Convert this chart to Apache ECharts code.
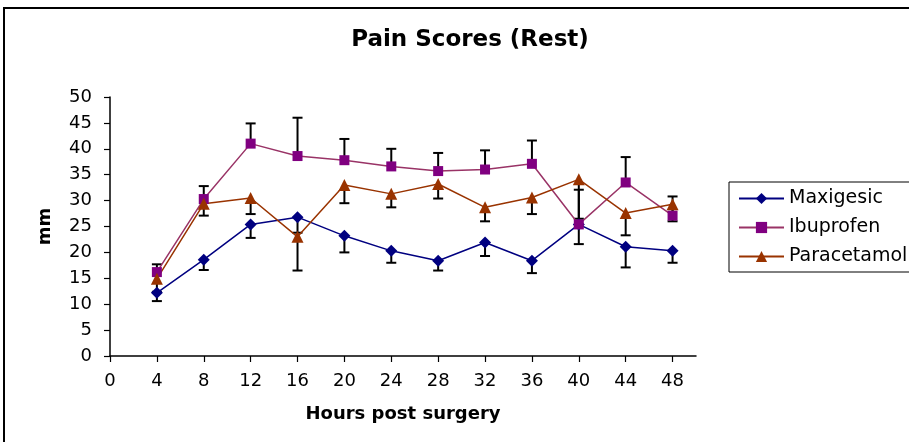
<!DOCTYPE html>
<html>
<head>
<meta charset="utf-8">
<script src="https://cdn.jsdelivr.net/npm/echarts@6/dist/echarts.min.js"></script>
<style>
html,body{margin:0;padding:0;background:#fff;}
#chart{width:909px;height:442px;}
</style>
</head>
<body>
<div id="chart"></div>
<script>
// ---- data ----
const hours = [4, 8, 12, 16, 20, 24, 28, 32, 36, 40, 44, 48];
const xTickLabels = [0, 4, 8, 12, 16, 20, 24, 28, 32, 36, 40, 44, 48];
const yTickLabels = [0, 5, 10, 15, 20, 25, 30, 35, 40, 45, 50];

const maxigesic = [12.2, 18.6, 25.4, 26.8, 23.2, 20.3, 18.4, 21.9, 18.4, 25.4, 21.1, 20.3];
const maxigesicErrMinus = [1.6, 2.0, 2.6, 3.0, 3.2, 2.3, 1.9, 2.6, 2.4, 3.8, 4.0, 2.3];

const ibuprofen = [16.2, 30.3, 41.0, 38.6, 37.8, 36.6, 35.7, 36.0, 37.1, 25.4, 33.5, 27.1];
const ibuprofenErrPlus = [1.5, 2.5, 3.9, 7.4, 4.1, 3.4, 3.5, 3.7, 4.5, 6.7, 4.9, 3.7];

const paracetamol = [14.9, 29.4, 30.5, 23.0, 33.0, 31.3, 33.2, 28.7, 30.6, 34.1, 27.6, 29.3];
const paracetamolErrMinus = [2.5, 2.3, 3.1, 6.5, 3.5, 2.6, 2.8, 2.7, 3.2, 7.6, 4.3, 3.3];

const seriesNames = ['Maxigesic', 'Ibuprofen', 'Paracetamol'];

// ---- build ----
function pts(vals) { return hours.map((h, i) => [h, vals[i]]); }
function errData(vals, errs, sign) {
  return hours.map((h, i) => [h, vals[i], vals[i] + sign * errs[i]]);
}

const FONT = 'DejaVu Sans';

function errSeries(data) {
  return {
    type: 'custom',
    z: 1,
    silent: true,
    renderItem: function (params, api) {
      const x = api.value(0);
      const p0 = api.coord([x, api.value(1)]);
      const p1 = api.coord([x, api.value(2)]);
      const half = 5;
      return {
        type: 'group',
        children: [
          { type: 'line', shape: { x1: p0[0], y1: p0[1], x2: p1[0], y2: p1[1] },
            style: { stroke: '#000', lineWidth: 2 } },
          { type: 'line', shape: { x1: p1[0] - half, y1: p1[1], x2: p1[0] + half, y2: p1[1] },
            style: { stroke: '#000', lineWidth: 2 } }
        ]
      };
    },
    encode: { x: 0, y: [1, 2] },
    data: data
  };
}

function lineSeries(name, vals, lineColor, markColor, symbol, size) {
  return {
    name: name,
    type: 'line',
    z: 3,
    data: pts(vals),
    symbol: symbol,
    symbolSize: size,
    showAllSymbol: true,
    lineStyle: { color: lineColor, width: 1.5 },
    itemStyle: { color: markColor, borderWidth: 0 },
    emphasis: { disabled: true },
    animation: false
  };
}

const chart = echarts.init(document.getElementById('chart'), null, { renderer: 'canvas' });
chart.setOption({
  animation: false,
  backgroundColor: '#fff',
  textStyle: { fontFamily: FONT },
  title: {
    text: 'Pain Scores (Rest)',
    left: 465, top: 24, textAlign: 'center',
    textStyle: { fontFamily: FONT, fontWeight: 'bold', fontSize: 23, color: '#000' }
  },
  graphic: [{
    type: 'rect', silent: true,
    shape: { x: 4, y: 8, width: 1000, height: 1000 },
    style: { fill: 'none', stroke: '#000', lineWidth: 2 }
  }],
  legend: {
    data: seriesNames,
    orient: 'vertical',
    left: 729, top: 182,
    itemWidth: 45, itemHeight: 14, itemGap: 10,
    padding: [7, 60, 6, 9],
    borderColor: '#000', borderWidth: 1,
    textStyle: { fontFamily: FONT, fontSize: 19, color: '#000' }
  },
  grid: { left: 110, right: 213, top: 97, bottom: 86, containLabel: false },
  xAxis: {
    type: 'value', min: 0, max: 50, interval: 4,
    name: 'Hours post surgery', nameLocation: 'middle', nameGap: 49,
    nameTextStyle: { fontFamily: FONT, fontWeight: 'bold', fontSize: 18, color: '#000' },
    axisLine: { lineStyle: { color: '#000', width: 1.5 } },
    axisTick: { length: 6, lineStyle: { color: '#000', width: 1.2 }, customValues: xTickLabels },
    axisLabel: { fontFamily: FONT, fontSize: 18, color: '#000', margin: 16, customValues: xTickLabels },
    splitLine: { show: false }
  },
  yAxis: {
    type: 'value', min: 0, max: 50, interval: 5,
    name: 'mm', nameLocation: 'middle', nameGap: 56, nameRotate: 90,
    nameTextStyle: { fontFamily: FONT, fontWeight: 'bold', fontSize: 18, color: '#000' },
    axisLine: { show: true, lineStyle: { color: '#000', width: 1.5 } },
    axisTick: { show: true, length: 6, lineStyle: { color: '#000', width: 1.2 } },
    axisLabel: { fontFamily: FONT, fontSize: 18, color: '#000', margin: 18 },
    splitLine: { show: false }
  },
  series: [
    errSeries(errData(maxigesic, maxigesicErrMinus, -1)),
    errSeries(errData(ibuprofen, ibuprofenErrPlus, 1)),
    errSeries(errData(paracetamol, paracetamolErrMinus, -1)),
    lineSeries('Maxigesic', maxigesic, '#000080', '#000080', 'diamond', 12),
    lineSeries('Ibuprofen', ibuprofen, '#993366', '#800080', 'rect', 10),
    lineSeries('Paracetamol', paracetamol, '#993300', '#993300', 'triangle', 12)
  ]
});
</script>
</body>
</html>
